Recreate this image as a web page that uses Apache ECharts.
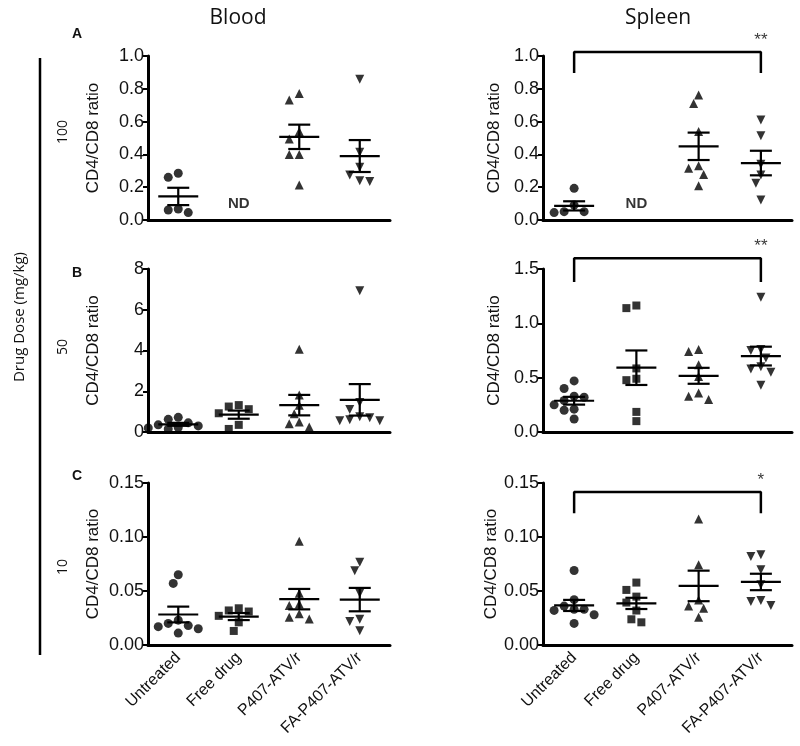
<!DOCTYPE html>
<html>
<head>
<meta charset="utf-8">
<script src="https://cdn.jsdelivr.net/npm/echarts@6/dist/echarts.min.js"></script>
<style>html,body{margin:0;padding:0;background:#fff}#main{width:800px;height:746px}</style>
</head>
<body>
<div id="main"></div>
<script>
let myChart = echarts.init(document.getElementById('main'));

const groups = ['Untreated', 'Free drug', 'P407-ATV/r', 'FA-P407-ATV/r'];
const doses = ['100', '50', '10'];

// CD4/CD8 ratio per animal, groups in the order above (null = ND)
const blood100 = [[0.285, 0.26, 0.067, 0.045, 0.061], null,
  [0.772, 0.732, 0.539, 0.494, 0.40, 0.40, 0.213], [0.858, 0.413, 0.321, 0.274, 0.234, 0.24]];
const blood50 = [[0.72, 0.62, 0.45, 0.35, 0.3, 0.2, 0.15, 0.22], [1.25, 1.32, 1.12, 0.92, 0.35, 0.15],
  [4.06, 1.81, 1.31, 0.9, 0.49, 0.41, 0.25], [6.93, 1.45, 1.1, 0.75, 0.7, 0.55, 0.6, 0.55]];
const blood10 = [[0.065, 0.057, 0.023, 0.020, 0.018, 0.017, 0.015, 0.011], [0.034, 0.032, 0.031, 0.027, 0.021, 0.013],
  [0.096, 0.048, 0.038, 0.0365, 0.029, 0.024, 0.0257], [0.0767, 0.0687, 0.048, 0.0238, 0.0217, 0.0133]];
const spleen100 = [[0.193, 0.051, 0.045, 0.051, 0.091], null,
  [0.762, 0.711, 0.539, 0.315, 0.331, 0.278, 0.209], [0.61, 0.514, 0.34, 0.274, 0.224, 0.122]];
const spleen50 = [[0.47, 0.40, 0.33, 0.29, 0.32, 0.25, 0.21, 0.20, 0.12], [1.164, 1.14, 0.585, 0.49, 0.477, 0.185, 0.10],
  [0.76, 0.74, 0.62, 0.51, 0.36, 0.33, 0.30], [1.24, 0.76, 0.75, 0.68, 0.60, 0.58, 0.55, 0.43]];
const spleen10 = [[0.069, 0.042, 0.036, 0.033, 0.033, 0.032, 0.028, 0.020], [0.0578, 0.051, 0.0448, 0.0393, 0.0319, 0.021, 0.0238],
  [0.1166, 0.0742, 0.0417, 0.034, 0.036, 0.0257], [0.0835, 0.082, 0.0696, 0.0557, 0.0411, 0.0365, 0.0402]];

// y axis: max, step, decimals
const bloodMax = [1.0, 8, 0.15], bloodStep = [0.2, 2, 0.05], bloodDec = [1, 0, 2];
const spleenMax = [1.0, 1.5, 0.15], spleenStep = [0.2, 0.5, 0.05], spleenDec = [1, 1, 2];
// Untreated vs FA-P407-ATV/r brackets in spleen: [foot, top], and stars
const spleenBracket = [[0.896, 1.024], [1.38, 1.60], [0.122, 0.1417]];
const spleenStars = ['**', '**', '*'];
const ndValue = 0.1;

const symbols = ['circle', 'rect', 'triangle', 'path://M0,0L10,0L5,9Z'];
const ink = '#000';
const txtColor = '#111';
const cols = [{left: 148, width: 242, gap: 46}, {left: 543, width: 249, gap: 40}];
const rows = [{top: 56, height: 164}, {top: 269, height: 163}, {top: 483, height: 162}];

function stats(v) {
  let n = v.length, m = v.reduce((a, b) => a + b, 0) / n;
  let sd = Math.sqrt(v.reduce((a, b) => a + (b - m) * (b - m), 0) / (n - 1));
  return [m, sd / Math.sqrt(n)];
}

// simple beeswarm so points don't overlap
function swarm(vals, g, pxY, pxX, d) {
  let placed = [], out = [];
  let order = vals.map((v, i) => i).sort((a, b) => vals[b] - vals[a]);
  order.forEach(i => {
    let py = vals[i] * pxY, best = 0;
    for (let k = 0; k < 40; k++) {
      let off = (k === 0 ? 0 : (k % 2 ? -1 : 1) * Math.ceil(k / 2)) * d / 2;
      if (placed.every(p => (p[0] - off) ** 2 + (p[1] - py) ** 2 >= d * d * 0.85)) { best = off; break; }
    }
    placed.push([best, py]);
    out.push([g + best / pxX, vals[i]]);
  });
  return out;
}

let grid = [], xAxis = [], yAxis = [], series = [];
const panels = [
  [blood100, 0, 0], [spleen100, 0, 1], [blood50, 1, 0], [spleen50, 1, 1], [blood10, 2, 0], [spleen10, 2, 1]
];

panels.forEach((p, idx) => {
  let [data, r, c] = p;
  let ymax = c ? spleenMax[r] : bloodMax[r];
  let step = c ? spleenStep[r] : bloodStep[r];
  let dec = c ? spleenDec[r] : bloodDec[r];
  let col = cols[c], row = rows[r];
  grid.push({left: col.left, top: row.top, width: col.width, height: row.height});
  xAxis.push({
    type: 'category', gridIndex: idx, data: groups, boundaryGap: true,
    axisLine: {onZero: false, lineStyle: {color: ink, width: 3}},
    axisTick: {alignWithLabel: true, length: 5, lineStyle: {width: 2.5, color: ink}},
    axisLabel: {show: r === 2, rotate: 45, fontSize: 16, color: txtColor, fontFamily: 'Liberation Sans', margin: 10}
  });
  xAxis.push({type: 'value', gridIndex: idx, min: -0.5, max: 3.5, show: false});
  yAxis.push({
    type: 'value', gridIndex: idx, min: 0, max: ymax, interval: step,
    name: 'CD4/CD8 ratio', nameLocation: 'middle', nameGap: col.gap,
    nameTextStyle: {fontSize: 17, color: txtColor, fontFamily: 'Liberation Sans'},
    axisLine: {show: true, onZero: false, lineStyle: {color: ink, width: 3}},
    axisTick: {show: true, length: 5, lineStyle: {width: 2, color: ink}},
    splitLine: {show: false},
    axisLabel: {fontSize: 18, color: txtColor, fontFamily: 'Liberation Sans', margin: 4,
      formatter: v => v.toFixed(dec)}
  });
  let xi = idx * 2 + 1;
  let pxY = row.height / ymax, pxX = col.width / 4;
  data.forEach((vals, g) => {
    if (!vals) {
      series.push({
        type: 'scatter', xAxisIndex: xi, yAxisIndex: idx, symbolSize: 1, silent: true,
        itemStyle: {color: 'transparent'},
        label: {show: true, formatter: 'ND', position: 'inside', fontWeight: 'bold', fontSize: 15,
          color: ink, fontFamily: 'Liberation Sans'},
        data: [[g, ndValue]]
      });
      return;
    }
    series.push({
      type: 'scatter', xAxisIndex: xi, yAxisIndex: idx, symbol: symbols[g], symbolSize: g === 1 ? 8 : 9,
      itemStyle: {color: ink}, data: swarm(vals, g, pxY, pxX, 10)
    });
    let [m, se] = stats(vals);
    series.push({
      type: 'custom', xAxisIndex: xi, yAxisIndex: idx, silent: true, z: 3,
      data: [[g, m, m - se, m + se]],
      renderItem: function (params, api) {
        let pm = api.coord([api.value(0), api.value(1)]);
        let pl = api.coord([api.value(0), api.value(2)]);
        let ph = api.coord([api.value(0), api.value(3)]);
        let st = {stroke: ink, lineWidth: 2.2};
        return {type: 'group', children: [
          {type: 'line', shape: {x1: pm[0] - 20, y1: pm[1], x2: pm[0] + 20, y2: pm[1]}, style: st},
          {type: 'line', shape: {x1: pl[0] - 11, y1: pl[1], x2: pl[0] + 11, y2: pl[1]}, style: st},
          {type: 'line', shape: {x1: ph[0] - 11, y1: ph[1], x2: ph[0] + 11, y2: ph[1]}, style: st},
          {type: 'line', shape: {x1: pl[0], y1: pl[1], x2: ph[0], y2: ph[1]}, style: st}
        ]};
      }
    });
  });
  if (c === 1) {
    let [y0, y1] = spleenBracket[r];
    series.push({
      type: 'line', xAxisIndex: xi, yAxisIndex: idx, symbol: 'none', clip: false, silent: true,
      lineStyle: {color: ink, width: 2.5},
      data: [[0, y0], [0, y1], [3, y1], [3, y0]]
    });
    series.push({
      type: 'scatter', xAxisIndex: xi, yAxisIndex: idx, symbolSize: 1, clip: false, silent: true,
      itemStyle: {color: 'transparent'},
      label: {show: true, formatter: spleenStars[r], position: 'top', distance: 3, fontSize: 17,
        color: ink, fontFamily: 'Liberation Sans'},
      data: [[3, y1]]
    });
  }
});

const txt = (x, y, text, size, rot, extra) => ({
  type: 'text', x: x, y: y, rotation: rot || 0,
  style: Object.assign({text: text, fontSize: size, fontFamily: 'Open Sans', fill: txtColor,
    align: 'center', verticalAlign: 'middle'}, extra || {})
});

option = {
  animation: false,
  grid: grid,
  xAxis: xAxis,
  yAxis: yAxis,
  series: series,
  graphic: [
    txt(238, 18, 'Blood', 21),
    txt(658, 18, 'Spleen', 21),
    txt(77, 34, 'A', 14, 0, {fontWeight: 'bold', fontFamily: 'Liberation Sans'}),
    txt(77, 273, 'B', 14, 0, {fontWeight: 'bold', fontFamily: 'Liberation Sans'}),
    txt(77, 476, 'C', 14, 0, {fontWeight: 'bold', fontFamily: 'Liberation Sans'}),
    txt(63, 132, doses[0], 14, Math.PI / 2),
    txt(63, 347, doses[1], 14, Math.PI / 2),
    txt(63, 567, doses[2], 14, Math.PI / 2),
    txt(20, 317, 'Drug Dose (mg/kg)', 15, Math.PI / 2),
    {type: 'line', shape: {x1: 40, y1: 58, x2: 40, y2: 655}, style: {stroke: ink, lineWidth: 2.5}}
  ]
};

myChart.setOption(option);
</script>
</body>
</html>
